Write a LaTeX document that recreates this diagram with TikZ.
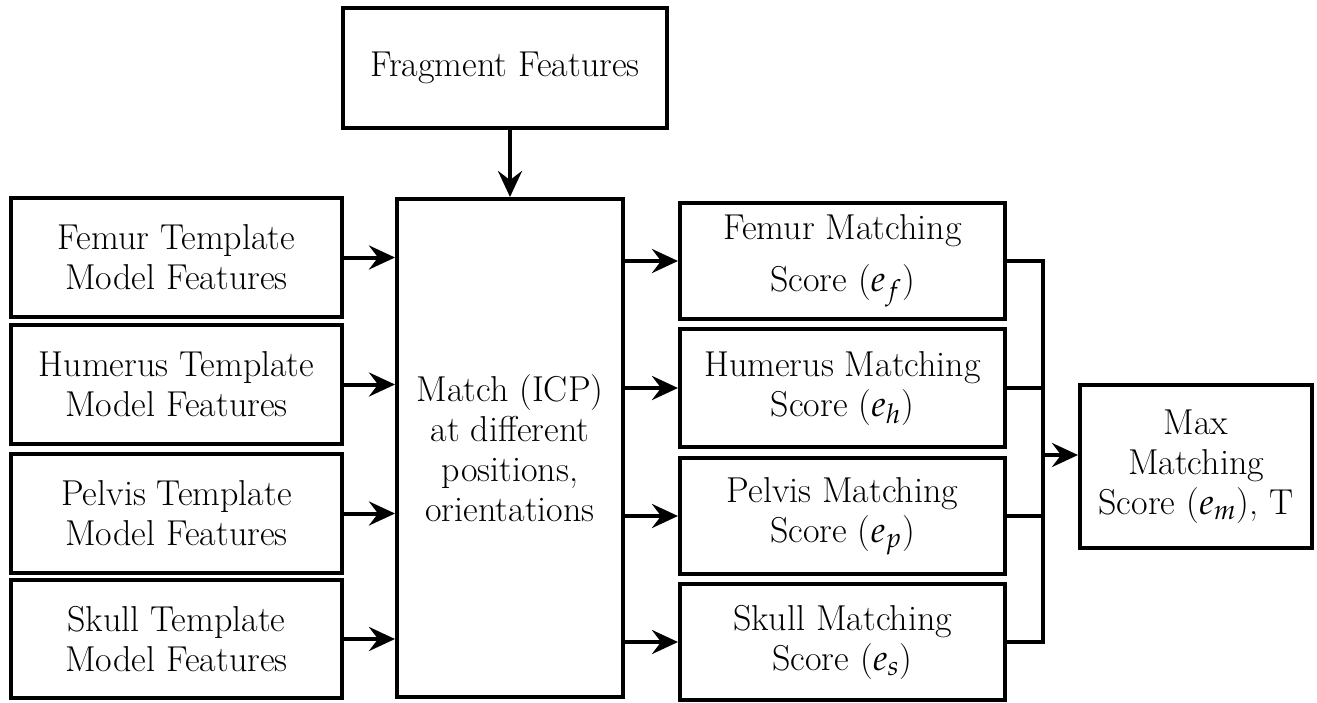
\documentclass[tikz,border=0pt]{standalone}
\usepackage{mathpazo}
\usetikzlibrary{arrows.meta}
\begin{document}
\begin{tikzpicture}[x=0.5pt,y=-0.5pt,
  box/.style={draw, line width=2pt, inner sep=0pt, align=center, font=\fontsize{18}{20}\selectfont},
  arr/.style={line width=2pt, -{Stealth[length=13pt,width=12pt,inset=4.5pt]}},
  conn/.style={line width=2pt}]
\useasboundingbox (0,0) rectangle (1317,702);
\node[box, minimum width=162pt, minimum height=60pt] (f) at (505,68) {Fragment Features};
\node[box, minimum width=165.5pt, minimum height=59.5pt] (l1) at (176.5,257.5) {Femur Template\\Model Features};
\node[box, minimum width=165.5pt, minimum height=59.5pt] (l2) at (176.5,384.5) {Humerus Template\\Model Features};
\node[box, minimum width=165.5pt, minimum height=59.5pt] (l3) at (176.5,513.5) {Pelvis Template\\Model Features};
\node[box, minimum width=165.5pt, minimum height=59pt] (l4) at (176.5,639) {Skull Template\\Model Features};
\node[box, minimum width=113pt, minimum height=249pt] (m) at (510,448) {Match (ICP)\\at different\\positions,\\orientations};
\node[box, minimum width=162.5pt, minimum height=58pt] (s1) at (842.5,261) {Femur Matching\\[6pt]Score ($e_f$)};
\node[box, minimum width=162.5pt, minimum height=59pt] (s2) at (842.5,388) {Humerus Matching\\Score ($e_h$)};
\node[box, minimum width=162.5pt, minimum height=58pt] (s3) at (842.5,516) {Pelvis Matching\\Score ($e_p$)};
\node[box, minimum width=162.5pt, minimum height=58pt] (s4) at (842.5,642) {Skull Matching\\Score ($e_s$)};
\node[box, minimum width=116pt, minimum height=81.5pt] (mx) at (1196,466.5) {Max\\Matching\\Score ($e_m$), T};
\coordinate (rt) at (1043,261);
\coordinate (jn) at (1043,455);
\draw[arr] (m.north |- f.south) -- (m.north);
\foreach \n in {l1,l2,l3,l4} \draw[arr] (\n.east) -- (\n.east -| m.west);
\foreach \n in {s1,s2,s3,s4} \draw[arr] (\n.west -| m.east) -- (\n.west);
\draw[conn] (s1.east) -- (s1.east -| rt) -- (s4.east -| rt) -- (s4.east);
\draw[conn] (s2.east) -- (s2.east -| rt);
\draw[conn] (s3.east) -- (s3.east -| rt);
\draw[arr] (jn) -- (jn -| mx.west);
\end{tikzpicture}
\end{document}
